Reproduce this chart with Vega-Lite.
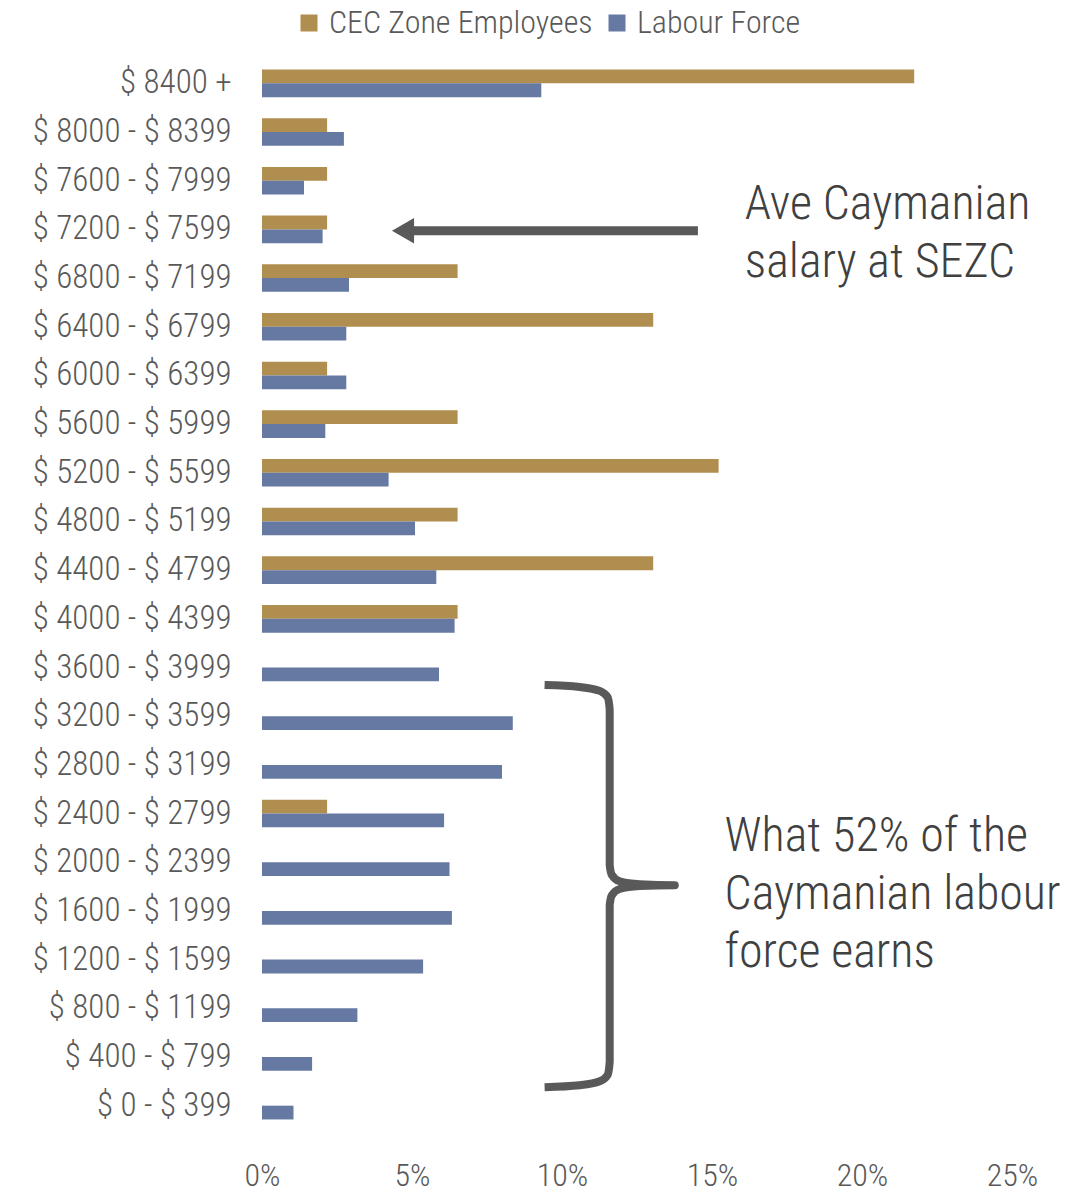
{
  "$schema": "https://vega.github.io/schema/vega-lite/v6.json",
  "autosize": "none",
  "width": 750,
  "height": 1071,
  "padding": {"left": 262, "top": 59, "right": 77, "bottom": 66},
  "background": "white",
  "config": {
    "view": {"stroke": null},
    "font": "Roboto Condensed, DejaVu Sans Condensed, sans-serif",
    "text": {"font": "Roboto Condensed, DejaVu Sans Condensed, sans-serif"}
  },
  "datasets": {
    "bars": [
      {"bracket": "$ 8400 +", "series": "CEC Zone Employees", "pct": 21.74},
      {"bracket": "$ 8400 +", "series": "Labour Force", "pct": 9.31},
      {"bracket": "$ 8000 - $ 8399", "series": "CEC Zone Employees", "pct": 2.17},
      {"bracket": "$ 8000 - $ 8399", "series": "Labour Force", "pct": 2.73},
      {"bracket": "$ 7600 - $ 7999", "series": "CEC Zone Employees", "pct": 2.17},
      {"bracket": "$ 7600 - $ 7999", "series": "Labour Force", "pct": 1.4},
      {"bracket": "$ 7200 - $ 7599", "series": "CEC Zone Employees", "pct": 2.17},
      {"bracket": "$ 7200 - $ 7599", "series": "Labour Force", "pct": 2.02},
      {"bracket": "$ 6800 - $ 7199", "series": "CEC Zone Employees", "pct": 6.52},
      {"bracket": "$ 6800 - $ 7199", "series": "Labour Force", "pct": 2.9},
      {"bracket": "$ 6400 - $ 6799", "series": "CEC Zone Employees", "pct": 13.04},
      {"bracket": "$ 6400 - $ 6799", "series": "Labour Force", "pct": 2.81},
      {"bracket": "$ 6000 - $ 6399", "series": "CEC Zone Employees", "pct": 2.17},
      {"bracket": "$ 6000 - $ 6399", "series": "Labour Force", "pct": 2.81},
      {"bracket": "$ 5600 - $ 5999", "series": "CEC Zone Employees", "pct": 6.52},
      {"bracket": "$ 5600 - $ 5999", "series": "Labour Force", "pct": 2.11},
      {"bracket": "$ 5200 - $ 5599", "series": "CEC Zone Employees", "pct": 15.22},
      {"bracket": "$ 5200 - $ 5599", "series": "Labour Force", "pct": 4.22},
      {"bracket": "$ 4800 - $ 5199", "series": "CEC Zone Employees", "pct": 6.52},
      {"bracket": "$ 4800 - $ 5199", "series": "Labour Force", "pct": 5.1},
      {"bracket": "$ 4400 - $ 4799", "series": "CEC Zone Employees", "pct": 13.04},
      {"bracket": "$ 4400 - $ 4799", "series": "Labour Force", "pct": 5.81},
      {"bracket": "$ 4000 - $ 4399", "series": "CEC Zone Employees", "pct": 6.52},
      {"bracket": "$ 4000 - $ 4399", "series": "Labour Force", "pct": 6.42},
      {"bracket": "$ 3600 - $ 3999", "series": "Labour Force", "pct": 5.9},
      {"bracket": "$ 3200 - $ 3599", "series": "Labour Force", "pct": 8.36},
      {"bracket": "$ 2800 - $ 3199", "series": "Labour Force", "pct": 8.0},
      {"bracket": "$ 2400 - $ 2799", "series": "CEC Zone Employees", "pct": 2.17},
      {"bracket": "$ 2400 - $ 2799", "series": "Labour Force", "pct": 6.07},
      {"bracket": "$ 2000 - $ 2399", "series": "Labour Force", "pct": 6.25},
      {"bracket": "$ 1600 - $ 1999", "series": "Labour Force", "pct": 6.33},
      {"bracket": "$ 1200 - $ 1599", "series": "Labour Force", "pct": 5.37},
      {"bracket": "$ 800 - $ 1199", "series": "Labour Force", "pct": 3.18},
      {"bracket": "$ 400 - $ 799", "series": "Labour Force", "pct": 1.67},
      {"bracket": "$ 0 - $ 399", "series": "Labour Force", "pct": 1.05}
    ],
    "arrow": [
      {"x": 5.0, "r": 3.53},
      {"x": 14.53, "r": 3.53}
    ],
    "arrowhead": [
      {"x": 4.7, "r": 3.53}
    ],
    "brace": [
      {"o": 1, "x": 9.42, "r": 12.86},
      {"o": 2, "x": 10.59, "r": 12.9},
      {"o": 3, "x": 11.26, "r": 12.98},
      {"o": 4, "x": 11.52, "r": 13.11},
      {"o": 5, "x": 11.59, "r": 13.37},
      {"o": 6, "x": 11.59, "r": 16.56},
      {"o": 7, "x": 11.66, "r": 16.76},
      {"o": 8, "x": 11.92, "r": 16.89},
      {"o": 9, "x": 12.59, "r": 16.95},
      {"o": 10, "x": 13.76, "r": 16.97},
      {"o": 11, "x": 12.59, "r": 16.99},
      {"o": 12, "x": 11.92, "r": 17.05},
      {"o": 13, "x": 11.66, "r": 17.18},
      {"o": 14, "x": 11.59, "r": 17.38},
      {"o": 15, "x": 11.59, "r": 20.6},
      {"o": 16, "x": 11.52, "r": 20.87},
      {"o": 17, "x": 11.26, "r": 21.0},
      {"o": 18, "x": 10.59, "r": 21.08},
      {"o": 19, "x": 9.42, "r": 21.12}
    ],
    "notes": [
      {"x": 16.09, "r": 3.0, "label": "Ave Caymanian\nsalary at SEZC"},
      {"x": 15.42, "r": 15.98, "label": "What 52% of the\nCaymanian labour\nforce earns"}
    ]
  },
  "resolve": {"scale": {"y": "independent"}},
  "layer": [
    {
      "data": {"name": "bars"},
      "mark": {"type": "bar"},
      "encoding": {
        "y": {
          "field": "bracket",
          "type": "nominal",
          "sort": null,
          "scale": {
            "domain": ["$ 8400 +", "$ 8000 - $ 8399", "$ 7600 - $ 7999", "$ 7200 - $ 7599", "$ 6800 - $ 7199", "$ 6400 - $ 6799", "$ 6000 - $ 6399", "$ 5600 - $ 5999", "$ 5200 - $ 5599", "$ 4800 - $ 5199", "$ 4400 - $ 4799", "$ 4000 - $ 4399", "$ 3600 - $ 3999", "$ 3200 - $ 3599", "$ 2800 - $ 3199", "$ 2400 - $ 2799", "$ 2000 - $ 2399", "$ 1600 - $ 1999", "$ 1200 - $ 1599", "$ 800 - $ 1199", "$ 400 - $ 799", "$ 0 - $ 399"],
            "paddingInner": 0.433,
            "paddingOuter": 0.2165
          },
          "axis": {
            "title": null,
            "domain": false,
            "ticks": false,
            "grid": false,
            "labelPadding": 31,
            "labelFontSize": 33,
            "labelFontWeight": 300,
            "labelLimit": 500,
            "labelColor": "#595959",
            "labelFont": "Roboto Condensed, DejaVu Sans Condensed, sans-serif"
          }
        },
        "yOffset": {
          "field": "series",
          "type": "nominal",
          "scale": {"domain": ["CEC Zone Employees", "Labour Force"], "paddingInner": 0, "paddingOuter": 0}
        },
        "x": {
          "field": "pct",
          "type": "quantitative",
          "scale": {"domain": [0, 25], "nice": false},
          "axis": {
            "title": null,
            "domain": false,
            "ticks": false,
            "grid": false,
            "values": [0, 5, 10, 15, 20, 25],
            "labelExpr": "datum.value + '%'",
            "labelFlush": false,
            "labelPadding": 30,
            "labelFontSize": 32,
            "labelFontWeight": 300,
            "labelColor": "#595959",
            "labelFont": "Roboto Condensed, DejaVu Sans Condensed, sans-serif"
          }
        },
        "color": {
          "field": "series",
          "type": "nominal",
          "scale": {"domain": ["CEC Zone Employees", "Labour Force"], "range": ["#B08E4F", "#6679A3"]},
          "legend": {
            "title": null,
            "orient": "none",
            "direction": "horizontal",
            "legendX": 31,
            "legendY": -52,
            "symbolType": "square",
            "symbolSize": 289,
            "symbolStrokeWidth": 0,
            "labelFontSize": 32,
            "labelFontWeight": 300,
            "labelLimit": 500,
            "labelColor": "#595959",
            "labelFont": "Roboto Condensed, DejaVu Sans Condensed, sans-serif",
            "labelOffset": 4,
            "columnPadding": 8
          }
        }
      }
    },
    {
      "data": {"name": "arrow"},
      "mark": {"type": "line", "color": "#595959", "strokeWidth": 9, "strokeCap": "butt", "clip": false},
      "encoding": {
        "x": {"field": "x", "type": "quantitative", "scale": {"domain": [0, 25], "nice": false}},
        "y": {"field": "r", "type": "quantitative", "scale": {"domain": [0, 22], "reverse": true, "nice": false, "zero": false}, "axis": null}
      }
    },
    {
      "data": {"name": "arrowhead"},
      "mark": {"type": "point", "shape": "triangle-left", "filled": true, "color": "#595959", "opacity": 1, "size": 650, "clip": false},
      "encoding": {
        "x": {"field": "x", "type": "quantitative", "scale": {"domain": [0, 25], "nice": false}},
        "y": {"field": "r", "type": "quantitative", "scale": {"domain": [0, 22], "reverse": true, "nice": false, "zero": false}, "axis": null}
      }
    },
    {
      "data": {"name": "brace"},
      "mark": {"type": "line", "color": "#595959", "strokeWidth": 8, "strokeJoin": "round", "strokeCap": "butt", "interpolate": "monotone", "clip": false},
      "encoding": {
        "x": {"field": "x", "type": "quantitative", "scale": {"domain": [0, 25], "nice": false}},
        "y": {"field": "r", "type": "quantitative", "scale": {"domain": [0, 22], "reverse": true, "nice": false, "zero": false}, "axis": null},
        "order": {"field": "o", "type": "quantitative"}
      }
    },
    {
      "data": {"name": "notes"},
      "mark": {"type": "text", "align": "left", "baseline": "middle", "lineBreak": "\n", "lineHeight": 58, "fontSize": 48, "fontWeight": 300, "color": "#404040", "font": "Roboto Condensed, DejaVu Sans Condensed, sans-serif", "clip": false},
      "encoding": {
        "x": {"field": "x", "type": "quantitative", "scale": {"domain": [0, 25], "nice": false}},
        "y": {"field": "r", "type": "quantitative", "scale": {"domain": [0, 22], "reverse": true, "nice": false, "zero": false}, "axis": null},
        "text": {"field": "label"}
      }
    }
  ]
}
